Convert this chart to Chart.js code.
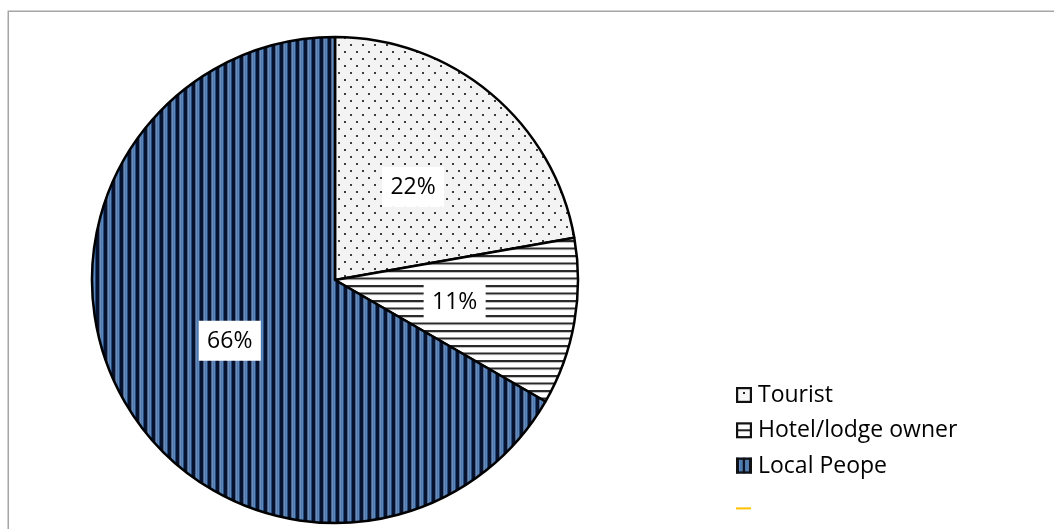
<!DOCTYPE html>
<html>
<head>
<meta charset="utf-8">
<script src="https://cdn.jsdelivr.net/npm/chart.js@4.4.1/dist/chart.umd.min.js"></script>
<style>
  html, body { margin: 0; padding: 0; background: #fff; overflow: hidden; }
  canvas { display: block; }
</style>
</head>
<body>
<canvas id="pie" width="1054" height="529"></canvas>
<script>
// Who the respondents were
const categories = ['Tourist', 'Hotel/lodge owner', 'Local Peope', ''];
const shares = [22, 11, 66, 0];
const shareLabels = ['22%', '11%', '66%', ''];

const FONT = '"Open Sans", "Noto Sans", sans-serif';

// Small canvas tiles used as repeating fills
function makeTile(w, h, paint) {
  const c = document.createElement('canvas');
  c.width = w; c.height = h;
  paint(c.getContext('2d'));
  return c;
}

const dottedTile = makeTile(12, 14, g => {
  g.fillStyle = '#f3f3f3';
  g.fillRect(0, 0, 12, 14);
  g.fillStyle = '#3c3c3c';
  g.fillRect(2, 2, 2, 2);
  g.fillRect(8, 9, 2, 2);
});

const hLineTile = makeTile(8, 15, g => {
  g.fillStyle = '#ffffff';
  g.fillRect(0, 0, 8, 15);
  g.fillStyle = '#2a2a2a';
  g.fillRect(0, 0, 8, 2);
  g.fillRect(0, 7.5, 8, 2);
  g.fillStyle = '#9a9a9a';
  g.fillRect(0, 2, 8, 0.6);
  g.fillRect(0, 9.5, 8, 0.6);
});

const vStripeTile = makeTile(8, 8, g => {
  const bands = [
    [0, 3.5, '#061330'],
    [3.5, 1, '#1f3f70'],
    [4.5, 1.5, '#4a7bb5'],
    [6, 1, '#5f87b8'],
    [7, 1, '#23497d']
  ];
  bands.forEach(([x, w, col]) => { g.fillStyle = col; g.fillRect(x, 0, w, 8); });
});

const canvas = document.getElementById('pie');
const ctx = canvas.getContext('2d');
const fills = [
  ctx.createPattern(dottedTile, 'repeat'),
  ctx.createPattern(hLineTile, 'repeat'),
  ctx.createPattern(vStripeTile, 'repeat'),
  '#ffc000'
];

// Thin grey frame around the chart area
const framePlugin = {
  id: 'frame',
  beforeDraw(chart) {
    const c = chart.ctx;
    c.save();
    c.strokeStyle = '#a6a6a6';
    c.lineWidth = 1.5;
    c.strokeRect(8.25, 11.25, 1200, 700);
    c.restore();
  }
};

// Percent labels in white boxes at the middle of each slice
const sliceLabelPlugin = {
  id: 'sliceLabels',
  afterDatasetsDraw(chart) {
    const c = chart.ctx;
    const meta = chart.getDatasetMeta(0);
    c.save();
    c.font = '23px ' + FONT;
    c.textAlign = 'center';
    c.textBaseline = 'middle';
    meta.data.forEach((arc, i) => {
      const txt = shareLabels[i];
      if (!txt) return;
      const p = arc.tooltipPosition();
      c.fillStyle = '#ffffff';
      c.fillRect(p.x - 31, p.y - 20, 62, 40);
      c.fillStyle = '#000000';
      c.fillText(txt, p.x, p.y + 1);
    });
    c.restore();
  }
};

// Legend with pattern swatches, stacked at the lower right
const legendPlugin = {
  id: 'patternLegend',
  afterDraw(chart) {
    const c = chart.ctx;
    const x0 = 736, top0 = 387, step = 35.3, box = 16;
    c.save();
    c.font = '23px ' + FONT;
    c.textAlign = 'left';
    c.textBaseline = 'alphabetic';
    categories.forEach((name, i) => {
      const y = top0 + i * step;
      if (i === 0) {
        c.fillStyle = '#f6f6f6';
        c.fillRect(x0, y, box, box);
        c.fillStyle = '#222';
        c.fillRect(x0 + 7, y + 5, 2, 2);
      } else if (i === 1) {
        c.fillStyle = '#ffffff';
        c.fillRect(x0, y, box, box);
        c.fillStyle = '#222';
        c.fillRect(x0, y + 7, box, 2);
      } else if (i === 2) {
        const cols = ['#061330', '#4a7bb5', '#061330', '#4a7bb5', '#061330'];
        cols.forEach((col, k) => { c.fillStyle = col; c.fillRect(x0 + k * 3.2, y, 3.2, box); });
      } else {
        c.fillStyle = fills[3];
        c.fillRect(x0, y + 14.5, 15, 2);
        return;
      }
      c.strokeStyle = '#111';
      c.lineWidth = 2.2;
      c.strokeRect(x0 + 1.1, y + 1.1, box - 2.2, box - 2.2);
      c.fillStyle = '#000';
      c.fillText(name, 758, y + 15);
    });
    c.restore();
  }
};

new Chart(ctx, {
  type: 'pie',
  data: {
    labels: categories,
    datasets: [{
      data: shares,
      backgroundColor: fills,
      borderColor: '#000000',
      borderWidth: [2.5, 2.5, 2.5, 0],
      hoverOffset: 0
    }]
  },
  options: {
    responsive: false,
    animation: false,
    devicePixelRatio: 1,
    radius: 243,
    layout: { padding: { left: 92, right: 476, top: 37, bottom: 6 } },
    plugins: {
      legend: { display: false },
      tooltip: { enabled: false }
    }
  },
  plugins: [framePlugin, sliceLabelPlugin, legendPlugin]
});
</script>
</body>
</html>
